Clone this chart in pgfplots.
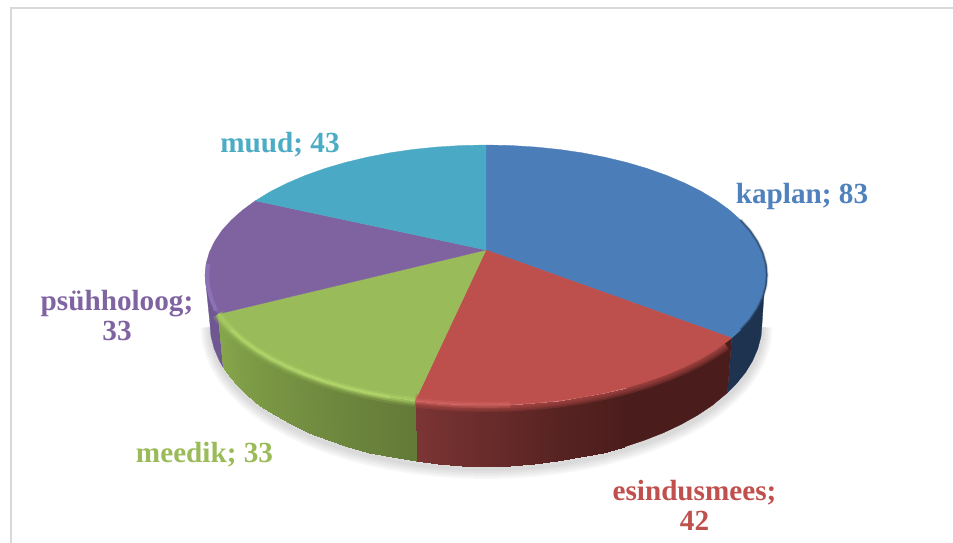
\documentclass[border=0pt]{standalone}
\usepackage{pgfplots}
\pgfplotsset{compat=1.18}
\usepackage{pgfplotstable}
\usepackage{fontspec}
\setmainfont{Liberation Serif}
\definecolor{tb}{HTML}{4B7DB9}
\definecolor{tr}{HTML}{BD4F4C}
\definecolor{tg}{HTML}{9ABB59}
\definecolor{tp}{HTML}{7F63A1}
\definecolor{tc}{HTML}{4AA9C4}
\definecolor{wb}{HTML}{1D334F}
\definecolor{wrB}{HTML}{4A1D1C}
\definecolor{wp}{HTML}{6F5892}
\definecolor{lb}{HTML}{4F81BD}
\definecolor{lr}{HTML}{C0504D}
\definecolor{lg}{HTML}{9BBB59}
\definecolor{lp}{HTML}{8064A2}
\definecolor{lc}{HTML}{4BACC6}
\definecolor{hg}{HTML}{B6DA6E}
\definecolor{hr}{HTML}{D56A67}
\definecolor{hp}{HTML}{9378BE}
\pgfplotsset{
  colormap={wallred}{rgb255(0cm)=(74,29,28) rgb255(1cm)=(124,53,52)},
  colormap={wallgreen}{rgb255(0cm)=(99,122,56) rgb255(1cm)=(134,166,75)}
}
\pgfplotstableread{
x y
486 250
486 145
510.5 145.5
534.8 147
558.7 149.4
582.1 152.8
604.8 157.2
626.5 162.4
647.2 168.5
666.6 175.4
684.7 183.1
701.3 191.4
716.2 200.4
729.4 210
740.7 220.1
750.1 230.5
757.4 241.4
762.7 252.4
765.9 263.7
767 275
765.9 286.3
762.7 297.6
757.4 308.6
750.1 319.5
740.7 329.9
731.8 338
}\faceBlue
\pgfplotstableread{
x y
486 250
731.8 338
716.2 349.6
701.3 358.6
684.7 366.9
666.6 374.6
647.2 381.5
626.5 387.6
604.8 392.8
582.1 397.2
558.7 400.6
534.8 403
510.5 404.5
486 405
461.5 404.5
437.2 403
415.2 400.8
}\faceRed
\pgfplotstableread{
x y
486 250
415.2 400.8
389.9 397.2
367.2 392.8
345.5 387.6
324.8 381.5
305.4 374.6
287.3 366.9
270.7 358.6
255.8 349.6
242.7 340
231.3 329.9
221.9 319.5
218 314.1
}\faceGreen
\pgfplotstableread{
x y
486 250
218 314.1
214.6 308.6
209.3 297.6
206.1 286.3
205 275
206.1 263.7
209.3 252.4
214.6 241.4
221.9 230.5
231.3 220.1
242.7 210
255.3 200.8
}\facePurple
\pgfplotstableread{
x y
486 250
255.3 200.8
270.7 191.4
287.3 183.1
305.4 175.4
324.8 168.5
345.5 162.4
367.2 157.2
389.9 152.8
413.3 149.4
437.2 147
461.5 145.5
486 145
}\faceCyan
\pgfplotstableread{
x y
765.9 263.7
767 275
765.9 286.3
762.7 297.6
757.4 308.6
750.1 319.5
740.7 329.9
731.8 338
727.4 392.8
736.1 384
745.4 372.6
752.6 360.8
757.8 348.7
761 336.4
762 324
}\wallBlue
\pgfplotstableread{
x y
731.8 338
716.2 349.6
701.3 358.6
684.7 366.9
666.6 374.6
647.2 381.5
626.5 387.6
624 447
644.3 440.3
663.4 432.8
681.2 424.4
697.4 415.3
712.1 405.5
727.4 392.8
}\wallRedDark
\pgfplotstableread{
x y
218 314.1
214.6 308.6
209.3 297.6
206.1 286.3
205 275
210 324
211 336.4
214.2 348.7
219.4 360.8
222.8 366.7
}\wallPurple
\pgfplotstableread{
x y c
626.5 387.6 0
604.8 392.8 .1
602.6 452.7 .1
624 447 0
604.8 392.8 .1
582.1 397.2 .17
580.4 457.4 .17
602.6 452.7 .1
582.1 397.2 .17
558.7 400.6 .27
557.4 461.2 .27
580.4 457.4 .17
558.7 400.6 .27
534.8 403 .39
533.9 463.8 .39
557.4 461.2 .27
534.8 403 .39
510.5 404.5 .5
510.1 465.5 .5
533.9 463.8 .39
510.5 404.5 .5
486 405 .62
486 466 .62
510.1 465.5 .5
486 405 .62
461.5 404.5 .74
461.9 465.5 .74
486 466 .62
461.5 404.5 .74
437.2 403 .86
438.1 463.8 .86
461.9 465.5 .74
437.2 403 .86
415.2 400.8 1
416.4 461.4 1
438.1 463.8 .86
}\patchRed
\pgfplotstableread{
x y c
415.2 400.8 0
389.9 397.2 .09
391.6 457.4 .09
416.4 461.4 0
389.9 397.2 .09
367.2 392.8 .18
369.4 452.7 .18
391.6 457.4 .09
367.2 392.8 .18
345.5 387.6 .27
348 447 .27
369.4 452.7 .18
345.5 387.6 .27
324.8 381.5 .35
327.7 440.3 .35
348 447 .27
324.8 381.5 .35
305.4 374.6 .44
308.6 432.8 .44
327.7 440.3 .35
305.4 374.6 .44
287.3 366.9 .53
290.8 424.4 .53
308.6 432.8 .44
287.3 366.9 .53
270.7 358.6 .61
274.6 415.3 .61
290.8 424.4 .53
270.7 358.6 .61
255.8 349.6 .70
259.9 405.5 .70
274.6 415.3 .61
255.8 349.6 .70
242.7 340 .78
247 395 .78
259.9 405.5 .70
242.7 340 .78
231.3 329.9 .87
235.9 384 .87
247 395 .78
231.3 329.9 .87
221.9 319.5 .95
226.6 372.6 .95
235.9 384 .87
221.9 319.5 .95
218 314.1 1
222.8 366.7 1
226.6 372.6 .95
}\patchGreen
\pgfplotstableread{
x y
762 324
761 336.4
757.8 348.7
752.6 360.8
745.4 372.6
736.1 384
727.4 392.8
712.1 405.5
697.4 415.3
681.2 424.4
663.4 432.8
644.3 440.3
624 447
602.6 452.7
580.4 457.4
557.4 461.2
533.9 463.8
510.1 465.5
486 466
461.9 465.5
438.1 463.8
416.4 461.4
391.6 457.4
369.4 452.7
348 447
327.7 440.3
308.6 432.8
290.8 424.4
274.6 415.3
259.9 405.5
247 395
235.9 384
226.6 372.6
219.4 360.8
214.2 348.7
211 336.4
210 324
}\shadowEdge
\pgfplotstableread{
x y
740.7 220.1
750.1 230.5
757.4 241.4
762.7 252.4
765.9 263.7
767 275
765.9 286.3
762.7 297.6
757.4 308.6
750.1 319.5
740.7 329.9
}\rimBlue
\pgfplotstableread{
x y
725 343.6
716.2 349.6
701.3 358.6
684.7 366.9
666.6 374.6
647.2 381.5
626.5 387.6
604.8 392.8
582.1 397.2
558.7 400.6
534.8 403
510.5 404.5
486 405
461.5 404.5
437.2 403
415.2 400.8
}\rimRed
\pgfplotstableread{
x y
510.5 404.5
486 405
461.5 404.5
437.2 403
415.2 400.8
}\glowRed
\pgfplotstableread{
x y
415.2 400.8
389.9 397.2
367.2 392.8
345.5 387.6
324.8 381.5
305.4 374.6
287.3 366.9
270.7 358.6
255.8 349.6
242.7 340
231.3 329.9
221.9 319.5
218 314.1
}\rimGreen
\pgfplotstableread{
x y
389.9 397.2
367.2 392.8
345.5 387.6
324.8 381.5
305.4 374.6
287.3 366.9
270.7 358.6
255.8 349.6
242.7 340
231.3 329.9
}\glowGreen
\pgfplotstableread{
x y
216 310.6
211.3 299
208.1 287
207 275
208.1 263.7
}\glowPurple
\newcommand\face[2]{\addplot[fill=#1,draw=#1,line width=.3pt] table {#2} -- cycle;}
\newcommand\band[4]{\addplot[draw=#1,line width=#3pt,opacity=#4] table {#2};}
\begin{document}
\begin{tikzpicture}
\useasboundingbox (0,0) rectangle (953pt,543pt);
\begin{axis}[
  at={(0,0)}, anchor=south west,
  hide axis, scale only axis, width=953pt, height=543pt,
  xmin=0, xmax=953, ymin=0, ymax=543, y dir=reverse, clip=true,
  point meta min=0, point meta max=1]
% frame
\addplot[draw=black!15,line width=2pt] coordinates {(953,8)(11,8)(11,543)};
% shadow
\addplot[draw=black,opacity=.03,line width=4pt,line join=round,xshift=.5pt,yshift=-3pt] table {\shadowEdge};
\addplot[draw=black,opacity=.03,line width=8pt,line join=round,xshift=.5pt,yshift=-3pt] table {\shadowEdge};
\addplot[draw=black,opacity=.03,line width=12pt,line join=round,xshift=.5pt,yshift=-3pt] table {\shadowEdge};
\addplot[draw=black,opacity=.03,line width=16pt,line join=round,xshift=.5pt,yshift=-3pt] table {\shadowEdge};
\addplot[draw=black,opacity=.03,line width=20pt,line join=round,xshift=.5pt,yshift=-3pt] table {\shadowEdge};
% walls
\face{wp}{\wallPurple}
\face{wb}{\wallBlue}
\face{wrB}{\wallRedDark}
\addplot[patch,patch type=rectangle,shader=interp,colormap name=wallred,point meta=explicit] table[meta=c] {\patchRed};
\addplot[patch,patch type=rectangle,shader=interp,colormap name=wallgreen,point meta=explicit] table[meta=c] {\patchGreen};
% top faces
\face{tb}{\faceBlue}
\face{tr}{\faceRed}
\face{tg}{\faceGreen}
\face{tp}{\facePurple}
\face{tc}{\faceCyan}
% rim blends
\band{tr}{\rimRed}{14}{.22}
\band{tr}{\rimRed}{11}{.22}
\band{tr}{\rimRed}{8}{.22}
\band{tr}{\rimRed}{5}{.22}
\band{tr}{\rimRed}{2}{.22}
\band{tg}{\rimGreen}{12}{.25}
\band{tg}{\rimGreen}{8}{.25}
\band{tg}{\rimGreen}{4}{.25}
\band{wb}{\rimBlue}{1.5}{.5}
\band{wb}{\rimBlue}{3}{.2}
\band{hr}{\glowRed}{6}{.3}
\band{hr}{\glowRed}{3}{.4}
\band{hg}{\rimGreen}{7}{.25}
\band{hg}{\rimGreen}{4}{.3}
\band{hg}{\glowGreen}{3}{.5}
\band{hp}{\glowPurple}{4}{.7}
% labels
\node[text=lb,anchor=center,font=\fontsize{29.2}{30}\selectfont\bfseries] at (axis cs:802,196) {kaplan; 83};
\node[text=lc,anchor=center,font=\fontsize{29.2}{30}\selectfont\bfseries] at (axis cs:280,144.5) {muud; 43};
\node[text=lg,anchor=center,font=\fontsize{29.2}{30}\selectfont\bfseries] at (axis cs:204.5,454.5) {meedik; 33};
\node[text=lp,anchor=center,align=center,font=\fontsize{29.2}{30}\selectfont\bfseries] at (axis cs:117,316) {psühholoog;\\33};
\node[text=lr,anchor=center,align=center,font=\fontsize{29.2}{30}\selectfont\bfseries] at (axis cs:694.5,505) {esindusmees;\\42};
\end{axis}
\end{tikzpicture}
\end{document}
